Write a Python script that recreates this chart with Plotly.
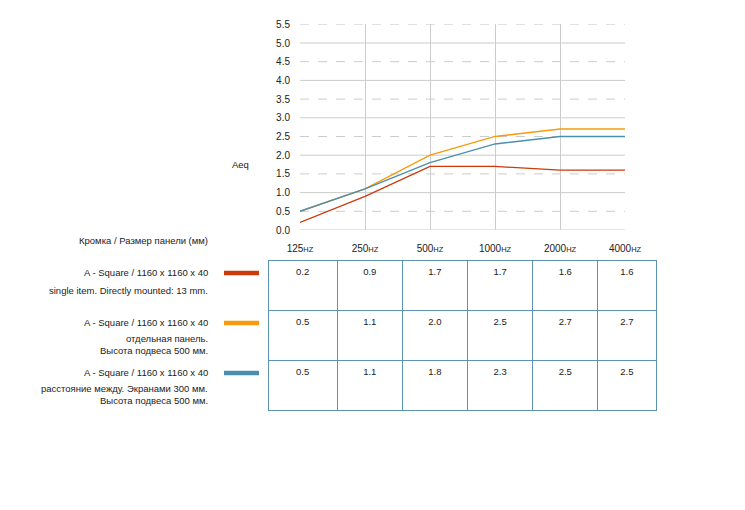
import plotly.graph_objects as go

freqs = ["125", "250", "500", "1000", "2000", "4000"]
row_first = ["A - Square / 1160 x 1160 x 40"] * 3
row_rest = [
    ["single item. Directly mounted: 13 mm."],
    ["отдельная панель.", "Высота подвеса 500 мм."],
    ["расстояние между. Экранами 300 мм.", "Высота подвеса 500 мм."],
]
s1 = [0.2, 0.9, 1.7, 1.7, 1.6, 1.6]
s2 = [0.5, 1.1, 2.0, 2.5, 2.7, 2.7]
s3 = [0.5, 1.1, 1.8, 2.3, 2.5, 2.5]
colors = ["#cc3a0c", "#f99a0a", "#4b8fad"]
y_ticks = [0.0, 0.5, 1.0, 1.5, 2.0, 2.5, 3.0, 3.5, 4.0, 4.5, 5.0, 5.5]

OFF = 8  # page body margin
W, H = 745 - OFF, 470
FONT = "Liberation Sans, Arial, sans-serif"

def px(x):
    return (x - OFF) / W

def py(y):
    return 1 - (y - OFF) / H

fig = go.Figure()
series = [s1, s2, s3]
ticktext = [f"{f}<span style='font-size:7.5px'>HZ</span>" for f in freqs]
xi = list(range(len(freqs)))
for vals, c, name in zip(series, colors, row_first):
    fig.add_trace(go.Scatter(x=xi, y=vals, mode="lines", line=dict(color=c, width=1.3),
                             name=name, showlegend=False, hoverinfo="skip"))

# data table (first data row as header, styled identically)
header_vals = [f"{v:.1f}" for v in s1]
cells_vals = [[f"{s2[i]:.1f}", f"{s3[i]:.1f}"] for i in range(len(freqs))]
border = "#5b93b0"
fig.add_trace(go.Table(
    domain=dict(x=[px(268), px(656)], y=[py(412), py(260)]),
    columnwidth=[69, 65, 65, 65, 65, 58],
    header=dict(values=header_vals, height=50, align="center",
                fill_color="white", line=dict(color=border, width=1),
                font=dict(family=FONT, size=9.5, color="#222")),
    cells=dict(values=cells_vals, height=50, align="center",
               fill_color="white", line=dict(color=border, width=1),
               font=dict(family=FONT, size=9.5, color="#222")),
))

fig.update_layout(
    width=W, height=H, margin=dict(l=0, r=0, t=0, b=0),
    paper_bgcolor="white", plot_bgcolor="white",
    font=dict(family=FONT, size=10, color="#222"),
    xaxis=dict(domain=[px(300), px(625)], range=[0, len(freqs) - 1], tickmode="array",
               tickvals=xi, ticktext=ticktext, showgrid=True, gridcolor="#cccccc",
               gridwidth=1, zeroline=False, showline=False, ticks="outside",
               ticklen=9, tickcolor="rgba(0,0,0,0)", tickfont=dict(size=10),
               automargin=False),
    yaxis=dict(domain=[py(230), py(24.3)], range=[0, 5.5], tickmode="array",
               tickvals=y_ticks, ticktext=[f"{v:.1f}" for v in y_ticks],
               showgrid=False, zeroline=False, showline=False, ticks="outside",
               ticklen=7, tickcolor="rgba(0,0,0,0)", tickfont=dict(size=10),
               automargin=False),
)

# horizontal gridlines: solid at integers, dashed at halves
for v in y_ticks:
    dash = "solid" if abs(v - round(v)) < 1e-9 else "dash"
    fig.add_shape(type="line", xref="paper", yref="y", x0=px(300), x1=px(625), y0=v, y1=v,
                  line=dict(color="#cccccc", width=1, dash=dash), layer="below")

fig.add_annotation(text="Aeq", x=px(230), y=py(157), xref="paper", yref="paper",
                   showarrow=False, font=dict(size=9.5))
fig.add_annotation(text="Кромка / Размер панели (мм)", x=px(210), y=py(240), xref="paper",
                   yref="paper", xanchor="right", showarrow=False, font=dict(size=9.5))

row_tops = [260, 310, 360]
for first, rest, c, top in zip(row_first, row_rest, colors, row_tops):
    fig.add_annotation(text=first, x=px(210), y=py(top + 12), xref="paper", yref="paper",
                       xanchor="right", yanchor="middle", showarrow=False,
                       font=dict(size=9.5))
    y0 = top + (30 if len(rest) == 1 else 28)
    for k, line in enumerate(rest):
        fig.add_annotation(text=line, x=px(210), y=py(y0 + 12.5 * k), xref="paper",
                           yref="paper", xanchor="right", yanchor="middle",
                           showarrow=False, font=dict(size=9.5))
    fig.add_shape(type="line", xref="paper", yref="paper", x0=px(224), x1=px(259),
                  y0=py(top + 13), y1=py(top + 13), line=dict(color=c, width=4.5))

fig.add_shape(type="line", xref="paper", yref="paper", x0=px(743.5), x1=px(743.5),
              y0=py(260), y1=py(410), line=dict(color=border, width=1.3))

fig.write_html("out.html")
